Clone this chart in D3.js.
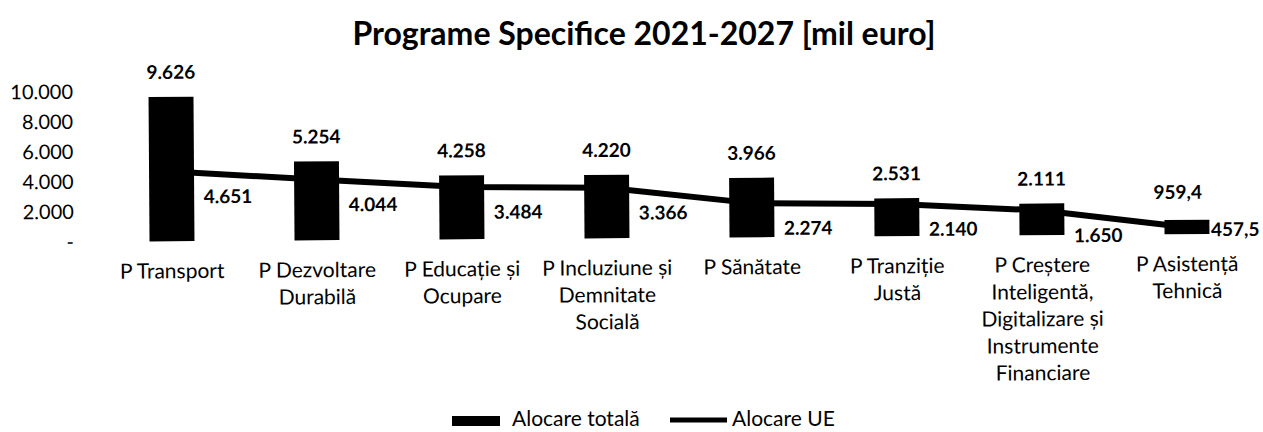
<!DOCTYPE html>
<html><head><meta charset="utf-8">
<script src="https://cdn.jsdelivr.net/npm/d3@7/dist/d3.min.js"></script>
<style>body{margin:0;background:#fff}svg{display:block}text{font-family:Lato,"Open Sans",sans-serif;fill:#000}</style>
</head><body>
<svg id="c" width="1263" height="432"></svg>
<script>
const categories = [
  ["P Transport"],
  ["P Dezvoltare","Durabilă"],
  ["P Educație și","Ocupare"],
  ["P Incluziune și","Demnitate","Socială"],
  ["P Sănătate"],
  ["P Tranziție","Justă"],
  ["P Creștere","Inteligentă,","Digitalizare și","Instrumente","Financiare"],
  ["P Asistență","Tehnică"]
];
const totalValues = [9626, 5254, 4258, 4220, 3966, 2531, 2111, 959.4];
const euValues = [4651, 4044, 3484, 3366, 2274, 2140, 1650, 457.5];
const yTicks = [0, 2000, 4000, 6000, 8000, 10000];
const seriesNames = ["Alocare totală", "Alocare UE"];
const title = "Programe Specifice 2021-2027 [mil euro]";

const svg = d3.select("#c");
const loc = d3.formatLocale({decimal: ",", thousands: ".", grouping: [3], currency: ["", ""]});
const fmtInt = loc.format(",.0f"), fmtDec = loc.format(",.1f");
const fmt = v => v === 0 ? "-" : (v >= 1000 ? fmtInt(v) : fmtDec(v));

const x = d3.scaleBand().domain(d3.range(categories.length)).range([99.5, 1259.5]).paddingInner(0.69).paddingOuter(0.345);
const y = d3.scaleLinear().domain([0, 10000]).range([238, 88]);
const cx = i => x(i) + x.bandwidth() / 2;
const last = categories.length - 1;

svg.append("text").attr("x", 644).attr("y", 45).attr("text-anchor", "middle")
  .style("font-size", "32px").style("font-weight", "bold").text(title);

const g = svg.append("g").attr("transform", "rotate(-0.4 640 238)");

// y axis labels
const yAxis = d3.axisLeft(y).tickValues(yTicks).tickFormat(fmt).tickSize(0).tickPadding(0);
const ga = g.append("g").attr("transform", "translate(74,0)").call(yAxis);
ga.select(".domain").remove();
ga.selectAll("text").style("font-size", "20px").style("font-family", "Lato,sans-serif").attr("fill", "#000");

// bars
g.selectAll("rect.bar").data(totalValues).join("rect").attr("class", "bar")
  .attr("x", (d, i) => x(i)).attr("width", x.bandwidth())
  .attr("y", d => y(d)).attr("height", d => y(0) - y(d)).attr("fill", "#000");

// line
g.append("path").datum(euValues)
  .attr("d", d3.line().x((d, i) => cx(i)).y(d => y(d)))
  .attr("fill", "none").attr("stroke", "#000").attr("stroke-width", 6).attr("stroke-linejoin", "round");

// bar labels
g.selectAll("text.bl").data(totalValues).join("text").attr("class", "bl")
  .attr("x", (d, i) => cx(i) - (i === last ? 9 : 0)).attr("y", (d, i) => y(d) - (i === last ? 21 : 18))
  .attr("text-anchor", "middle").style("font-size", "19px").style("font-weight", "bold").text(fmt);

// line labels
g.selectAll("text.ll").data(euValues).join("text").attr("class", "ll")
  .attr("x", (d, i) => cx(i) + (i === last ? 24 : 32)).attr("y", (d, i) => y(d) + (i === last ? 9 : 32))
  .attr("text-anchor", "start").style("font-size", "19px").style("font-weight", "bold").text(fmt);

// category labels
const cg = g.selectAll("text.cat").data(categories).join("text").attr("class", "cat")
  .attr("x", (d, i) => cx(i)).attr("y", 275).attr("text-anchor", "middle").style("font-size", "21px");
cg.selectAll("tspan").data(d => d).join("tspan")
  .attr("x", function() { return this.parentNode.getAttribute("x"); })
  .attr("dy", (d, j) => j === 0 ? 0 : 27).text(d => d);

// legend
const lg = svg.append("g");
lg.append("rect").attr("x", 452).attr("y", 416).attr("width", 48).attr("height", 10).attr("fill", "#000");
lg.append("text").attr("x", 512).attr("y", 426).style("font-size", "21px").text(seriesNames[0]);
lg.append("line").attr("x1", 670).attr("x2", 727).attr("y1", 420).attr("y2", 420).attr("stroke", "#000").attr("stroke-width", 5);
lg.append("text").attr("x", 732).attr("y", 426).style("font-size", "21px").text(seriesNames[1]);
</script>
</body></html>
